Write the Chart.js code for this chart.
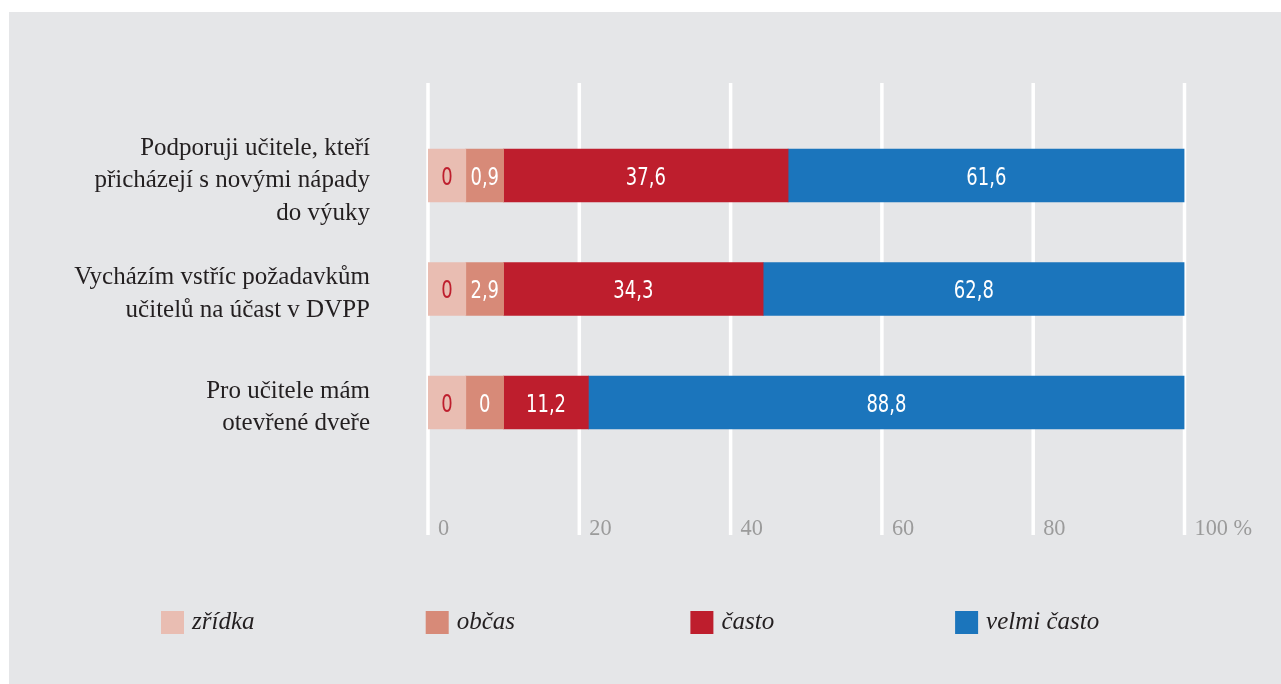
<!DOCTYPE html>
<html lang="cs">
<head>
<meta charset="utf-8">
<title>Podpora učitelů</title>
<script src="https://cdn.jsdelivr.net/npm/chart.js@4/dist/chart.umd.min.js"></script>
<style>
  html, body { margin: 0; padding: 0; background: #ffffff; }
  #panel {
    position: absolute;
    left: 9px; top: 12px;
    width: 1272px; height: 672px;
    background: #e5e6e8;
  }
  #chartBase { display: block; }
</style>
</head>
<body>
<div id="panel">
  <canvas id="chartBase" width="1272" height="672"></canvas>
</div>
<script>
// kategorie (osa y)
const kategorie = [
  ["Podporuji učitele, kteří", "přicházejí s novými nápady", "do výuky"],
  ["Vycházím vstříc požadavkům", "učitelů na účast v DVPP"],
  ["Pro učitele mám", "otevřené dveře"]
];

// hodnoty v %
const zridka = [0, 0, 0];
const obcas = [0.9, 2.9, 0];
const casto = [37.6, 34.3, 11.2];
const velmiCasto = [61.6, 62.8, 88.8];

const nazvyRad = ["zřídka", "občas", "často", "velmi často"];
const barvy = ["#e9bdb2", "#d78a78", "#be1e2d", "#1b75bc"];
const barvyPopisku = ["#be1e2d", "#ffffff", "#ffffff", "#ffffff"];

// osa x
const osaHodnoty = [0, 20, 40, 60, 80, 100];
const osaPopisky = ["0", "20", "40", "60", "80", "100 %"];

// v originale maji male useky minimalni sirku, posledni usek dopocita do 100
const MIN_SIRKA = 5;

function zobrazeni(rady) {
  const out = rady.map(function () { return []; });
  for (let i = 0; i < kategorie.length; i++) {
    const a = Math.max(rady[0][i], MIN_SIRKA);
    const b = Math.max(rady[1][i], MIN_SIRKA);
    const c = rady[2][i];
    out[0].push(a);
    out[1].push(b);
    out[2].push(c);
    out[3].push(100 - a - b - c);
  }
  return out;
}

const rady = [zridka, obcas, casto, velmiCasto];
const sirky = zobrazeni(rady);

function fmt(v) {
  return String(v).replace(".", ",");
}

// mrizka + popisky osy x (kresleno pres stupnici grafu)
const mrizkaPlugin = {
  id: "mrizka",
  beforeDatasetsDraw: function (chart) {
    const ctx = chart.ctx;
    const sx = chart.scales.x;
    ctx.save();
    ctx.strokeStyle = "#ffffff";
    ctx.lineWidth = 3.5;
    for (let i = 0; i < osaHodnoty.length; i++) {
      const x = sx.getPixelForValue(osaHodnoty[i]);
      ctx.beginPath();
      ctx.moveTo(x, 71);
      ctx.lineTo(x, 523);
      ctx.stroke();
    }
    ctx.fillStyle = "#9b9b9b";
    ctx.font = '24px "Liberation Serif", "DejaVu Serif", serif';
    ctx.textAlign = "left";
    ctx.textBaseline = "alphabetic";
    for (let i = 0; i < osaHodnoty.length; i++) {
      const x = sx.getPixelForValue(osaHodnoty[i]);
      // uzky font v originale -> lehce stlacit
      ctx.save();
      ctx.translate(x + 10, 523);
      ctx.scale(0.93, 1);
      ctx.fillText(osaPopisky[i], 0, 0);
      ctx.restore();
    }
    ctx.restore();
  }
};

// hodnoty uvnitr sloupcu
const hodnotyPlugin = {
  id: "hodnoty",
  afterDatasetsDraw: function (chart) {
    const ctx = chart.ctx;
    ctx.save();
    ctx.font = '25px "DejaVu Sans Condensed", "Liberation Sans", sans-serif';
    ctx.textAlign = "center";
    ctx.textBaseline = "alphabetic";
    for (let d = 0; d < chart.data.datasets.length; d++) {
      const meta = chart.getDatasetMeta(d);
      for (let i = 0; i < meta.data.length; i++) {
        const el = meta.data[i];
        const x = (el.x + el.base) / 2;
        ctx.save();
        ctx.translate(x, el.y + 9);
        ctx.scale(0.8, 1);
        ctx.fillStyle = barvyPopisku[d];
        ctx.fillText(fmt(rady[d][i]), 0, 0);
        ctx.restore();
      }
    }
    ctx.restore();
  }
};

// legenda s pevnymi rozestupy
const legendaPlugin = {
  id: "legenda",
  afterDraw: function (chart) {
    const ctx = chart.ctx;
    ctx.save();
    ctx.font = 'italic 25px "Liberation Serif", "DejaVu Serif", serif';
    ctx.textAlign = "left";
    ctx.textBaseline = "alphabetic";
    for (let i = 0; i < chart.data.datasets.length; i++) {
      const ds = chart.data.datasets[i];
      const x = 152 + i * 264.7;
      ctx.fillStyle = ds.backgroundColor;
      ctx.fillRect(x, 599, 23, 23);
      ctx.fillStyle = "#231f20";
      ctx.fillText(ds.label, x + 31, 617);
    }
    ctx.restore();
  }
};

function pintarChart() {
  const canvas = document.getElementById("chartBase");
  const ctx = canvas.getContext("2d");

  const datasets = [];
  for (let d = 0; d < nazvyRad.length; d++) {
    datasets.push({
      label: nazvyRad[d],
      data: sirky[d],
      backgroundColor: barvy[d],
      borderWidth: 0,
      barThickness: 53
    });
  }

  new Chart(ctx, {
    type: "bar",
    data: { labels: kategorie, datasets: datasets },
    plugins: [mrizkaPlugin, hodnotyPlugin, legendaPlugin],
    options: {
      indexAxis: "y",
      responsive: false,
      animation: false,
      layout: { padding: { left: 0, right: 96.5, top: 106.75, bottom: 224.75 } },
      plugins: {
        legend: { display: false },
        tooltip: {
          callbacks: {
            label: function (c) {
              return c.dataset.label + ": " + fmt(rady[c.datasetIndex][c.dataIndex]) + " %";
            }
          }
        }
      },
      scales: {
        x: {
          stacked: true,
          min: 0,
          max: 100,
          display: false
        },
        y: {
          stacked: true,
          offset: true,
          grid: { display: false, drawTicks: false },
          border: { display: false },
          afterFit: function (scale) { scale.width = 419; },
          ticks: {
            padding: 58,
            labelOffset: 5,
            color: "#231f20",
            font: { family: '"Liberation Serif", "DejaVu Serif", serif', size: 25, lineHeight: 1.3 }
          }
        }
      }
    }
  });
}

pintarChart();
</script>
</body>
</html>
